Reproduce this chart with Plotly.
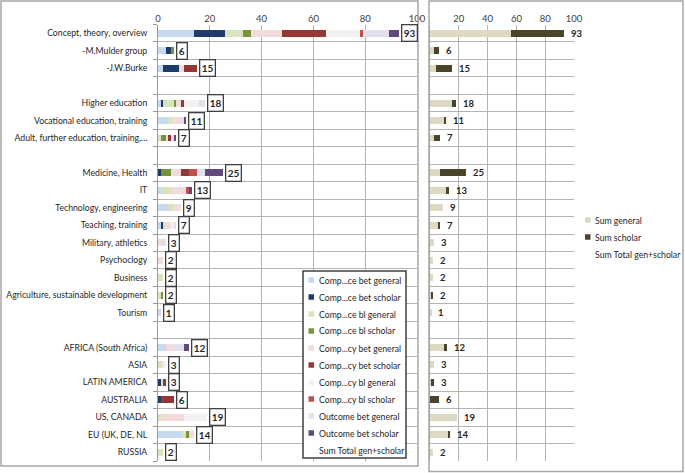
import plotly.graph_objects as go

categories = ["Concept, theory, overview", "-M.Mulder group", "-J.W.Burke", "",
              "Higher education", "Vocational education, training",
              "Adult, further education, training,...", "",
              "Medicine, Health", "IT", "Technology, engineering", "Teaching, training",
              "Military, athletics", "Psychoclogy", "Business",
              "Agriculture, sustainable development", "Tourism", "",
              "AFRICA (South Africa)", "ASIA", "LATIN AMERICA", "AUSTRALIA",
              "US, CANADA", "EU (UK, DE, NL", "RUSSIA"]

N = None
ce_bet_general = [14, 3, 2, N, 1, 4, 0, N, 0, 1, 4, 1, 0, 0, 0, 0, 1, N, 3, 0, 0, 0, 0, 9, 0]
ce_bet_scholar = [12, 2, 6, N, 1, 0, 0, N, 1, 0, 0, 1, 0, 0, 0, 0, 0, N, 0, 0, 1, 1, 0, 0, 0]
ce_bl_general = [7, 0, 0, N, 4, 1, 1, N, 0, 4, 2, 1, 0, 0, 2, 1, 0, N, 0, 1, 1, 0, 1, 2, 2]
ce_bl_scholar = [3, 1, 0, N, 1, 0, 2, N, 4, 0, 0, 0, 0, 0, 0, 1, 0, N, 0, 0, 0, 0, 0, 1, 0]
cy_bet_general = [12, 0, 2, N, 2, 4, 1, N, 4, 6, 3, 2, 1, 2, 0, 0, 0, N, 3, 1, 0, 0, 9, 2, 0]
cy_bet_scholar = [17, 0, 5, N, 1, 0, 1, N, 3, 0, 0, 0, 0, 0, 0, 0, 0, N, 0, 0, 1, 5, 0, 0, 0]
cy_bl_general = [13, 0, 0, N, 6, 0, 0, N, 0, 0, 0, 1, 0, 0, 0, 0, 0, N, 0, 1, 0, 0, 9, 0, 0]
cy_bl_scholar = [1, 0, 0, N, 0, 0, 0, N, 3, 1, 0, 0, 0, 0, 0, 0, 0, N, 0, 0, 0, 0, 0, 0, 0]
out_bet_general = [10, 0, 0, N, 2, 1, 1, N, 3, 0, 0, 1, 2, 0, 0, 0, 0, N, 4, 0, 0, 0, 0, 0, 0]
out_bet_scholar = [4, 0, 0, N, 0, 1, 1, N, 7, 1, 0, 0, 0, 0, 0, 0, 0, N, 2, 0, 0, 0, 0, 0, 0]
sum_total = [93, 6, 15, N, 18, 11, 7, N, 25, 13, 9, 7, 3, 2, 2, 2, 1, N, 12, 3, 3, 6, 19, 14, 2]

series = [
    ("Comp...ce bet general", ce_bet_general, "#c6d9f1", "g"),
    ("Comp...ce bet scholar", ce_bet_scholar, "#1f3b6b", "s"),
    ("Comp...ce bl general", ce_bl_general, "#d7e4bd", "g"),
    ("Comp...ce bl scholar", ce_bl_scholar, "#77933c", "s"),
    ("Comp...cy bet general", cy_bet_general, "#f2dcdb", "g"),
    ("Comp...cy bet scholar", cy_bet_scholar, "#953735", "s"),
    ("Comp...cy bl general", cy_bl_general, "#f2f2f2", "g"),
    ("Comp...cy bl scholar", cy_bl_scholar, "#c0504d", "s"),
    ("Outcome bet general", out_bet_general, "#e4dfec", "g"),
    ("Outcome bet scholar", out_bet_scholar, "#604a7b", "s"),
]
total_name = "Sum Total gen+scholar"
right_series_names = ["Sum general", "Sum scholar"]
right_colors = ["#ddd9c3", "#4a452a"]

ypos = list(range(len(categories)))

def add(a, b):
    return [None if (x is None) else x + (y or 0) for x, y in zip(a, b)]

sum_general = [None if v is None else 0 for v in sum_total]
sum_scholar = [None if v is None else 0 for v in sum_total]
for _, vals, _, kind in series:
    if kind == "g":
        sum_general = add(sum_general, vals)
    else:
        sum_scholar = add(sum_scholar, vals)

fig = go.Figure()
for name, vals, col, _ in series:
    fig.add_trace(go.Bar(x=vals, y=ypos, orientation="h", name=name,
                         marker=dict(color=col, line=dict(width=0)),
                         xaxis="x", yaxis="y", showlegend=False))
for name, vals, col in zip(right_series_names, [sum_general, sum_scholar], right_colors):
    fig.add_trace(go.Bar(x=vals, y=ypos, orientation="h", name=name,
                         marker=dict(color=col, line=dict(width=0)),
                         xaxis="x2", yaxis="y2", showlegend=False))

W, H = 685, 473
def px(x):
    return x / W
def py(y):
    return (H - y) / H

TXT = "Lato"
ann = []
for i, t in enumerate(sum_total):
    if t is None:
        continue
    ann.append(dict(x=t, y=i, xref="x", yref="y", text=f"<b>{t}</b>", showarrow=False,
                    xanchor="left", yanchor="middle", xshift=2,
                    font=dict(family=TXT, size=10, color="#262626"),
                    bordercolor="#404040", borderwidth=1.3, borderpad=1.5, bgcolor="white"))
    ann.append(dict(x=t, y=i, xref="x2", yref="y2", text=f"<b>{t}</b>", showarrow=False,
                    xanchor="left", yanchor="middle", xshift=5,
                    font=dict(family=TXT, size=9.5, color="#262626")))

shapes = [
    dict(type="rect", xref="paper", yref="paper", x0=px(1), x1=px(418), y0=py(466), y1=py(1),
         line=dict(color="#a6a6a6", width=1.5), layer="above"),
    dict(type="rect", xref="paper", yref="paper", x0=px(429), x1=px(683), y0=py(471.5), y1=py(1),
         line=dict(color="#a6a6a6", width=1.5), layer="above"),
]

# Legend for the left chart (drawn by hand to match the compact Excel spacing)
LG_X0, LG_X1, LG_Y0, LG_Y1 = 303, 406, 271, 458
LG_FIRST, LG_STEP = 280, 17
shapes.append(dict(type="rect", xref="paper", yref="paper", x0=px(LG_X0), x1=px(LG_X1),
                   y0=py(LG_Y1), y1=py(LG_Y0), fillcolor="white",
                   line=dict(color="#404040", width=1.5), layer="above"))
legend_items = [(name, col) for name, _, col, _ in series] + [(total_name, None)]
for k, (name, col) in enumerate(legend_items):
    yc = LG_FIRST + LG_STEP * k
    if col is not None:
        shapes.append(dict(type="rect", xref="paper", yref="paper", x0=px(308.5), x1=px(314),
                           y0=py(yc + 2.75), y1=py(yc - 2.75), fillcolor=col,
                           line=dict(width=0), layer="above"))
    ann.append(dict(x=px(317), y=py(yc), xref="paper", yref="paper", text=name,
                    showarrow=False, xanchor="left", yanchor="middle",
                    font=dict(family=TXT, size=8.7, color="#262626")))

# Legend for the right chart
RG_FIRST, RG_STEP = 220, 17
r_items = list(zip(right_series_names, right_colors)) + [(total_name, None)]
for k, (name, col) in enumerate(r_items):
    yc = RG_FIRST + RG_STEP * k
    if col is not None:
        shapes.append(dict(type="rect", xref="paper", yref="paper", x0=px(585), x1=px(590.5),
                           y0=py(yc + 2.75), y1=py(yc - 2.75), fillcolor=col,
                           line=dict(width=0), layer="above"))
    ann.append(dict(x=px(592.5), y=py(yc), xref="paper", yref="paper", text=name,
                    showarrow=False, xanchor="left", yanchor="middle",
                    font=dict(family=TXT, size=8.7, color="#262626")))

bounds = [i - 0.5 for i in range(len(categories) + 1)]
grid = "#b3b3b3"
yrange = [len(categories) - 0.5, -0.5]

fig.update_layout(
    width=W, height=H, margin=dict(l=0, r=0, t=0, b=0, autoexpand=False),
    paper_bgcolor="white", plot_bgcolor="white",
    barmode="stack", bargap=0.6, showlegend=False,
    font=dict(family=TXT, size=9.5, color="#404040"),
    xaxis=dict(domain=[px(158), px(417)], range=[0, 100], side="top",
               tickvals=[0, 20, 40, 60, 80, 100], automargin=False,
               showgrid=True, gridcolor=grid, gridwidth=1, zeroline=False, showline=False,
               ticks="", tickfont=dict(size=9.5, color="#404040"), anchor="y"),
    yaxis=dict(domain=[py(461), py(24.5)], range=yrange, tickmode="array", tickvals=ypos,
               ticktext=categories, showgrid=False, zeroline=False, showline=True,
               linecolor="#999999", linewidth=1, ticks="", ticklabelstandoff=8,
               automargin=False,
               tickfont=dict(size=8.7, color="#262626"), anchor="x",
               minor=dict(tickmode="array", tickvals=bounds, ticks="outside", ticklen=4,
                          tickcolor="#999999", showgrid=True, gridcolor=grid, gridwidth=1)),
    xaxis2=dict(domain=[px(430), px(574)], range=[0, 100], side="top",
                tickvals=[20, 40, 60, 80, 100], automargin=False,
                showgrid=True, gridcolor=grid, gridwidth=1, zeroline=False, showline=False,
                ticks="", tickfont=dict(size=9.5, color="#404040"), anchor="y2"),
    yaxis2=dict(domain=[py(461), py(24.5)], range=yrange, tickmode="array", tickvals=ypos,
                showticklabels=False, showgrid=False, zeroline=False, showline=True,
                automargin=False,
                linecolor="#999999", linewidth=1, ticks="", anchor="x2",
                minor=dict(tickmode="array", tickvals=bounds, ticks="",
                           showgrid=True, gridcolor=grid, gridwidth=1)),
    annotations=ann,
    shapes=shapes,
)

fig.write_html("out.html")
